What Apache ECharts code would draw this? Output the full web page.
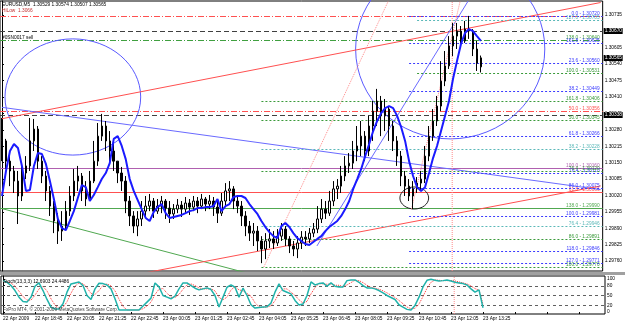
<!DOCTYPE html>
<html>
<head>
<meta charset="utf-8">
<title>EURUSD,M5</title>
<script src="https://cdn.jsdelivr.net/npm/echarts/dist/echarts.min.js"></script>
<style>
  html, body { margin: 0; padding: 0; background: #fff; }
  #main { width: 625px; height: 323px; }
</style>
</head>
<body>
<div id="main"></div>
<script>
// time labels, one every 8 bars
var timeLabels = ['22 Apr 2009', '22 Apr 18:45', '22 Apr 20:05', '22 Apr 21:25', '22 Apr 22:45',
  '23 Apr 00:05', '23 Apr 01:25', '23 Apr 02:45', '23 Apr 04:05', '23 Apr 05:25', '23 Apr 06:45',
  '23 Apr 08:05', '23 Apr 09:25', '23 Apr 10:45', '23 Apr 12:05', '23 Apr 13:25'];

var open = [1.30196, 1.30236, 1.30156, 1.30117, 1.30077, 1.30018, 1.30109, 1.30137, 1.30236, 1.30283,
  1.30156, 1.30097, 1.30038, 1.29978, 1.29919, 1.29879, 1.29899, 1.29958, 1.30018, 1.30077,
  1.30097, 1.30038, 1.30006, 1.30077, 1.30156, 1.30255, 1.30295, 1.30236, 1.30196, 1.30156,
  1.30109, 1.30077, 1.29998, 1.29939, 1.29899, 1.29927, 1.29958, 1.29978, 1.29998, 1.29958,
  1.29978, 1.29998, 1.29970, 1.29947, 1.29966, 1.29982, 1.29966, 1.29990, 1.29974, 1.29998,
  1.29978, 1.30006, 1.29986, 1.29998, 1.29974, 1.29950, 1.29998, 1.30038, 1.30046, 1.29998,
  1.29978, 1.29939, 1.29899, 1.29871, 1.29879, 1.29840, 1.29808, 1.29840, 1.29848, 1.29832,
  1.29859, 1.29887, 1.29848, 1.29820, 1.29808, 1.29832, 1.29855, 1.29848, 1.29871, 1.29887,
  1.29927, 1.29966, 1.29950, 1.29998, 1.30046, 1.30057, 1.30097, 1.30137, 1.30148, 1.30196,
  1.30216, 1.30255, 1.30196, 1.30295, 1.30354, 1.30394, 1.30335, 1.30362, 1.30295, 1.30236,
  1.30176, 1.30097, 1.30057, 1.30018, 1.30046, 1.30069, 1.30085, 1.30176, 1.30255, 1.30315,
  1.30374, 1.30473, 1.30533, 1.30612, 1.30651, 1.30671, 1.30632, 1.30679, 1.30671, 1.30600,
  1.30529];
var close = [1.30236, 1.30156, 1.30117, 1.30077, 1.30018, 1.30109, 1.30137, 1.30236, 1.30283, 1.30156,
  1.30097, 1.30038, 1.29978, 1.29919, 1.29879, 1.29899, 1.29958, 1.30018, 1.30077, 1.30097,
  1.30038, 1.30006, 1.30077, 1.30156, 1.30255, 1.30295, 1.30236, 1.30196, 1.30156, 1.30109,
  1.30077, 1.29998, 1.29939, 1.29899, 1.29927, 1.29958, 1.29978, 1.29998, 1.29958, 1.29978,
  1.29998, 1.29970, 1.29947, 1.29966, 1.29982, 1.29966, 1.29990, 1.29974, 1.29998, 1.29978,
  1.30006, 1.29986, 1.29998, 1.29974, 1.29950, 1.29998, 1.30038, 1.30046, 1.29998, 1.29978,
  1.29939, 1.29899, 1.29871, 1.29879, 1.29840, 1.29808, 1.29840, 1.29848, 1.29832, 1.29859,
  1.29887, 1.29848, 1.29820, 1.29808, 1.29832, 1.29855, 1.29848, 1.29871, 1.29887, 1.29927,
  1.29966, 1.29950, 1.29998, 1.30046, 1.30057, 1.30097, 1.30137, 1.30148, 1.30196, 1.30216,
  1.30255, 1.30196, 1.30295, 1.30354, 1.30394, 1.30335, 1.30362, 1.30295, 1.30236, 1.30176,
  1.30097, 1.30057, 1.30018, 1.30046, 1.30069, 1.30085, 1.30176, 1.30255, 1.30315, 1.30374,
  1.30473, 1.30533, 1.30612, 1.30651, 1.30671, 1.30632, 1.30679, 1.30671, 1.30600, 1.30544,
  1.30565];
var low = [1.30156, 1.30125, 1.30057, 1.30030, 1.29907, 1.29998, 1.30085, 1.30117, 1.30196, 1.30125,
  1.30069, 1.29998, 1.29939, 1.29871, 1.29828, 1.29840, 1.29887, 1.29939, 1.29998, 1.30038,
  1.29998, 1.29978, 1.29998, 1.30069, 1.30137, 1.30236, 1.30196, 1.30156, 1.30117, 1.30069,
  1.30038, 1.29950, 1.29899, 1.29871, 1.29859, 1.29899, 1.29939, 1.29958, 1.29931, 1.29947,
  1.29950, 1.29927, 1.29911, 1.29927, 1.29950, 1.29935, 1.29950, 1.29943, 1.29958, 1.29950,
  1.29966, 1.29958, 1.29966, 1.29939, 1.29911, 1.29939, 1.29978, 1.29998, 1.29966, 1.29950,
  1.29899, 1.29859, 1.29840, 1.29820, 1.29800, 1.29752, 1.29768, 1.29812, 1.29808, 1.29820,
  1.29840, 1.29820, 1.29792, 1.29780, 1.29772, 1.29808, 1.29820, 1.29832, 1.29855, 1.29871,
  1.29911, 1.29927, 1.29939, 1.29978, 1.30006, 1.30030, 1.30077, 1.30109, 1.30125, 1.30156,
  1.30176, 1.30156, 1.30176, 1.30236, 1.30295, 1.30255, 1.30275, 1.30236, 1.30196, 1.30137,
  1.30057, 1.30018, 1.29998, 1.29966, 1.30030, 1.30038, 1.30069, 1.30156, 1.30236, 1.30295,
  1.30354, 1.30453, 1.30521, 1.30572, 1.30600, 1.30612, 1.30624, 1.30640, 1.30572, 1.30513,
  1.30507];
var high = [1.30327, 1.30244, 1.30188, 1.30137, 1.30117, 1.30137, 1.30176, 1.30327, 1.30323, 1.30295,
  1.30176, 1.30117, 1.30057, 1.29998, 1.29950, 1.29958, 1.29998, 1.30057, 1.30125, 1.30137,
  1.30109, 1.30077, 1.30117, 1.30236, 1.30307, 1.30343, 1.30315, 1.30275, 1.30236, 1.30156,
  1.30133, 1.30097, 1.30018, 1.29958, 1.29958, 1.29998, 1.30018, 1.30026, 1.30010, 1.30006,
  1.30018, 1.30006, 1.29998, 1.29986, 1.30006, 1.29998, 1.30014, 1.30006, 1.30018, 1.30014,
  1.30026, 1.30014, 1.30022, 1.30014, 1.29998, 1.30030, 1.30069, 1.30077, 1.30057, 1.30018,
  1.29998, 1.29958, 1.29919, 1.29911, 1.29899, 1.29859, 1.29871, 1.29887, 1.29879, 1.29887,
  1.29911, 1.29899, 1.29859, 1.29840, 1.29859, 1.29879, 1.29879, 1.29891, 1.29911, 1.29978,
  1.30006, 1.29998, 1.30038, 1.30077, 1.30085, 1.30137, 1.30176, 1.30188, 1.30236, 1.30295,
  1.30315, 1.30275, 1.30335, 1.30394, 1.30442, 1.30414, 1.30402, 1.30374, 1.30315, 1.30255,
  1.30196, 1.30117, 1.30085, 1.30077, 1.30093, 1.30117, 1.30216, 1.30295, 1.30362, 1.30414,
  1.30552, 1.30592, 1.30651, 1.30703, 1.30703, 1.30691, 1.30711, 1.30731, 1.30679, 1.30632,
  1.30574];

// thick blue indicator line
var blueLine = [1.30018, 1.30117, 1.30196, 1.30224, 1.30208, 1.30137, 1.30038, 1.30042, 1.30137, 1.30188,
  1.30184, 1.30145, 1.30077, 1.30006, 1.29927, 1.29891, 1.29883, 1.29919, 1.29958, 1.30010,
  1.30061, 1.30053, 1.29998, 1.30022, 1.30053, 1.30085, 1.30109, 1.30148, 1.30244, 1.30255,
  1.30216, 1.30164, 1.30085, 1.30038, 1.30002, 1.29966, 1.29931, 1.29919, 1.29954, 1.29974,
  1.29986, 1.29950, 1.29931, 1.29935, 1.29939, 1.29943, 1.29950, 1.29958, 1.29962, 1.29970,
  1.29970, 1.29974, 1.29974, 1.29978, 1.30006, 1.29958, 1.29978, 1.29986, 1.30014, 1.30018,
  1.30018, 1.30010, 1.29986, 1.29966, 1.29947, 1.29919, 1.29895, 1.29875, 1.29859, 1.29851,
  1.29899, 1.29911, 1.29895, 1.29871, 1.29851, 1.29840, 1.29828, 1.29824, 1.29836, 1.29848,
  1.29859, 1.29879, 1.29895, 1.29907, 1.29919, 1.29939, 1.29966, 1.29998, 1.30046, 1.30085,
  1.30125, 1.30176, 1.30224, 1.30275, 1.30315, 1.30346, 1.30366, 1.30374, 1.30366, 1.30335,
  1.30291, 1.30236, 1.30156, 1.30097, 1.30053, 1.30038, 1.30053, 1.30109, 1.30168, 1.30216,
  1.30275, 1.30335, 1.30394, 1.30481, 1.30552, 1.30620, 1.30663, 1.30679, 1.30671, 1.30651,
  1.30632];

var stochMain = [95, 90, 80, 65, 45, 32, 30, 45, 78, 88,
  65, 38, 15, 9, 9, 25, 60, 85, 88, 91,
  80, 50, 38, 70, 87, 86, 82, 70, 40, 6,
  6, 6, 6, 6, 6, 18, 30, 42, 88, 76,
  50, 45, 40, 48, 70, 88, 88, 80, 72, 67,
  70, 73, 68, 50, 15, 45, 75, 82, 75, 45,
  72, 50, 22, 12, 14, 15, 16, 27, 60, 85,
  65, 60, 55, 35, 21, 24, 50, 91, 82, 86,
  88, 78, 88, 78, 76, 76, 95, 97, 97, 90,
  80, 73, 73, 70, 65, 58, 50, 44, 38, 22,
  15, 8, 6, 20, 45, 76, 96, 99, 96, 94,
  95, 97, 94, 90, 88, 86, 82, 70, 60, 67,
  13];
var stochSignal = [92, 92, 88, 78, 63, 47, 36, 36, 51, 70,
  77, 64, 40, 21, 11, 14, 31, 57, 78, 88,
  86, 74, 56, 53, 65, 81, 85, 79, 64, 39,
  17, 6, 6, 6, 6, 10, 18, 30, 53, 69,
  71, 57, 45, 44, 53, 69, 82, 85, 80, 73,
  70, 70, 70, 64, 44, 37, 45, 67, 77, 67,
  64, 56, 48, 28, 16, 14, 15, 19, 34, 57,
  70, 70, 60, 50, 37, 27, 32, 55, 74, 86,
  85, 84, 85, 81, 81, 77, 82, 89, 96, 95,
  89, 81, 75, 72, 69, 64, 58, 51, 44, 35,
  25, 15, 10, 11, 24, 47, 72, 90, 97, 96,
  95, 95, 95, 94, 91, 88, 85, 79, 71, 66,
  24];

var priceTicks = [1.30735, 1.30670, 1.30605, 1.30540, 1.30475, 1.30410, 1.30345, 1.30280,
  1.30215, 1.30150, 1.30085, 1.30020, 1.29955, 1.29890, 1.29825, 1.29760];
var stochTicks = [0, 20, 50, 80, 100];
var stochLevels = [20, 50, 80];

// horizontal objects across the whole chart
var hLinePrices = [1.30731, 1.30670, 1.30636, 1.30354, 1.30338, 1.30129, 1.30034, 1.29970];
var hLineTexts = ['', '', '138.0 - 1.30640', '50.0 - 1.30356', '', '100.0 - 1.30160', '61.8 - 1.30066', '138.0 - 1.29990'];
var boxedPrices = [1.30670, 1.30338, 1.30565];

// fibonacci levels: start bar, price, text
var blueFibStart = [102, 102, 102, 102, 102, 102, 102, 102, 102, 102];
var blueFibPrice = [1.30731, 1.30624, 1.30544, 1.30434, 1.30255, 1.30109, 1.30050, 1.29939, 1.29800, 1.29752];
var blueFibText = ['0.0 - 1.30720', '161.8 - 1.30625', '23.6 - 1.30560', '38.2 - 1.30449', '61.8 - 1.30266',
  '76.4 - 1.30110', '86.0 - 1.30075', '100.0 - 1.29981', '118.0 - 1.29846', '127.0 - 1.29771'];
var greenFibStart = [104, 65, 65, 65, 65, 65];
var greenFibPrice = [1.30505, 1.30394, 1.30319, 1.30117, 1.29848, 1.29737];
var greenFibText = ['100.0 - 1.30531', '161.8 - 1.30406', '50.0 - 1.30345', '76.4 - 1.30120', '86.0 - 1.29891', '100.0 - 1.29770'];
var tealFibStart = [104, 65, 65];
var tealFibPrice = [1.30715, 1.30204, 1.29899];
var tealFibText = ['127.0 - 1.30705', '38.2 - 1.30228', '76.4 - 1.29946'];

// trend lines [bar, price]
var redUpper = [[0, 1.30324], [150, 1.30784]];
var blueDown = [[0, 1.30369], [150, 1.30043]];
var greenDown = [[0, 1.29968], [65, 1.29698]];
var redRise = [[30, 1.29696], [150, 1.30058]];
var blueThin = [[78.9, 1.29820], [116.8, 1.30790]];
var pinkDiagA = [[65.6, 1.29737], [96.8, 1.30790]];
var pinkDiagB = [[102.6, 1.29966], [114.8, 1.30790]];
var nowBar = 112.8;

// ellipses [center bar, center price, half width in bars, half height in price]
var blueEllipses = [[17.75, 1.30410, 17, 0.0023], [112.3, 1.30600, 23.7, 0.00356]];
var blackEllipses = [[103.3, 1.30010, 3.6, 0.000436]];

var FONT = 'Liberation Sans';
var tiny = 4.8;
var tinyFont = tiny + 'px "' + FONT + '"';
var N = 151;

var categories = [];
for (var i = 0; i < N; i++) {
  categories.push(i % 8 === 0 && timeLabels[i / 8] ? timeLabels[i / 8] : '');
}
var candles = open.map(function (o, k) { return [o, close[k], low[k], high[k]]; });

var chart = echarts.init(document.getElementById('main'));

function seg(data, color, type, width) {
  return {
    type: 'line', xAxisIndex: 2, yAxisIndex: 0, data: data, symbol: 'none', silent: true,
    lineStyle: { color: color, width: width || 1, type: type || 'solid' }, z: 3
  };
}

function fibSeries(start, prices, texts, color) {
  return {
    type: 'custom', xAxisIndex: 2, yAxisIndex: 0, silent: true, z: 4,
    data: prices.map(function (p, k) { return [start[k], p]; }),
    renderItem: function (params, api) {
      var pt = api.coord([api.value(0), api.value(1)]);
      var right = params.coordSys.x + params.coordSys.width;
      var y = Math.round(pt[1]) + 0.5;
      return {
        type: 'group',
        children: [
          { type: 'line', shape: { x1: pt[0], y1: y, x2: right, y2: y },
            style: { stroke: color, lineWidth: 1, lineDash: [2, 2] } },
          { type: 'text', style: { text: texts[params.dataIndex], x: right - 3, y: y - 0.5,
            align: 'right', verticalAlign: 'bottom', fill: color, font: tinyFont } }
        ]
      };
    }
  };
}

function ellipseSeries(data, color) {
  return {
    type: 'custom', xAxisIndex: 2, yAxisIndex: 0, silent: true, z: 3,
    data: data,
    renderItem: function (params, api) {
      var c = api.coord([api.value(0), api.value(1)]);
      var s = api.size([api.value(2), api.value(3)]);
      return {
        type: 'ellipse',
        shape: { cx: c[0], cy: c[1], rx: s[0], ry: s[1] },
        style: { fill: null, stroke: color, lineWidth: 1 }
      };
    }
  };
}

var hStyles = [
  { color: '#ff5050', dash: [6, 2, 1, 2] },
  { color: '#404040', dash: [5, 3] },
  { color: '#40a040', dash: [6, 2, 1, 2] },
  { color: '#ff5050', dash: [6, 2, 1, 2] },
  { color: '#404040', dash: [5, 3] },
  { color: '#b060b0', dash: null },
  { color: '#ff5050', dash: null },
  { color: '#50a850', dash: null }
];

// full-width horizontal lines
var hLineSeries = {
  type: 'custom', xAxisIndex: 2, yAxisIndex: 0, silent: true, z: 3,
  data: hLinePrices.map(function (p) { return [0, p]; }),
  renderItem: function (params, api) {
    var cs = params.coordSys;
    var y = Math.round(api.coord([0, api.value(1)])[1]) + 0.5;
    var st = hStyles[params.dataIndex];
    var kids = [{ type: 'line', shape: { x1: cs.x, y1: y, x2: cs.x + cs.width, y2: y },
      style: { stroke: st.color, lineWidth: 1, lineDash: st.dash } }];
    var txt = hLineTexts[params.dataIndex];
    if (txt) {
      kids.push({ type: 'text', style: { text: txt, x: cs.x + cs.width - 3, y: y - 0.5,
        align: 'right', verticalAlign: 'bottom', fill: st.color, font: tinyFont } });
    }
    return { type: 'group', children: kids };
  }
};

// black price boxes on the price scale
var boxSeries = {
  type: 'custom', xAxisIndex: 2, yAxisIndex: 0, silent: true, z: 20, clip: false,
  data: boxedPrices.map(function (p) { return [0, p]; }),
  renderItem: function (params, api) {
    var cs = params.coordSys;
    var y = Math.round(api.coord([0, api.value(1)])[1]);
    var x = cs.x + cs.width + 1;
    return {
      type: 'group',
      children: [
        { type: 'rect', shape: { x: x, y: y - 3, width: 19, height: 6 }, style: { fill: '#000' } },
        { type: 'text', style: { text: api.value(1).toFixed(5), x: x + 1, y: y, align: 'left',
          verticalAlign: 'middle', fill: '#fff', font: tinyFont } }
      ]
    };
  }
};

// dashed stochastic levels
var levelSeries = {
  type: 'custom', xAxisIndex: 3, yAxisIndex: 1, silent: true, z: 3,
  data: stochLevels.map(function (v) { return [0, v]; }),
  renderItem: function (params, api) {
    var cs = params.coordSys;
    var y = Math.round(api.coord([0, api.value(1)])[1]) + 0.5;
    return { type: 'line', shape: { x1: cs.x, y1: y, x2: cs.x + cs.width, y2: y },
      style: { stroke: '#606060', lineWidth: 1, lineDash: [3, 3] } };
  }
};

var option = {
  animation: false,
  backgroundColor: '#fff',
  textStyle: { fontFamily: FONT },
  grid: [
    { left: 0, top: 1, width: 605, height: 270, show: true, borderColor: '#000', borderWidth: 1 },
    { left: 0, top: 276, width: 605, height: 38, show: true, borderColor: '#000', borderWidth: 1 }
  ],
  xAxis: [
    { type: 'category', gridIndex: 0, data: categories, boundaryGap: true, show: false },
    {
      type: 'category', gridIndex: 1, data: categories, boundaryGap: true, position: 'bottom',
      axisLine: { show: false },
      axisTick: { show: true, interval: 7, length: 2, alignWithLabel: true, lineStyle: { color: '#000' } },
      axisLabel: { interval: 7, align: 'left', fontSize: tiny, margin: 2, color: '#000', fontFamily: FONT },
      splitLine: { show: false }
    },
    { type: 'value', gridIndex: 0, min: -0.5, max: 150.5, show: false, position: 'top' },
    { type: 'value', gridIndex: 1, min: -0.5, max: 150.5, show: false, position: 'top' }
  ],
  yAxis: [
    {
      type: 'value', gridIndex: 0, position: 'right', min: 1.29721, max: 1.30790,
      axisLine: { show: true, lineStyle: { color: '#000' } },
      axisTick: { show: true, length: 2, customValues: priceTicks, lineStyle: { color: '#000' } },
      axisLabel: {
        customValues: priceTicks, fontSize: tiny, margin: 2, color: '#000', fontFamily: FONT,
        formatter: function (v) { return v.toFixed(5); }
      },
      splitLine: { show: false }
    },
    {
      type: 'value', gridIndex: 1, position: 'right', min: -6, max: 109,
      axisLine: { show: true, lineStyle: { color: '#000' } },
      axisTick: { show: true, length: 2, customValues: stochTicks, lineStyle: { color: '#000' } },
      axisLabel: { customValues: stochTicks, fontSize: tiny, margin: 2, color: '#000', fontFamily: FONT },
      splitLine: { show: false }
    }
  ],
  graphic: [
    { type: 'rect', left: 0, top: 272, shape: { width: 625, height: 3 }, style: { fill: '#a0a0a0' }, z: 10 },
    { type: 'text', left: 2, top: 2, z: 10,
      style: { text: 'EURUSD,M5  1.30529 1.30574 1.30507 1.30565', fill: '#000', font: tinyFont } },
    { type: 'text', left: 2, top: 8, z: 10,
      style: { text: 'HiLow  1.3066', fill: '#c03030', font: tinyFont } },
    { type: 'text', left: 2, top: 35, z: 10,
      style: { text: '#0SN0017 sell', fill: '#000', font: tinyFont } },
    { type: 'text', left: 3, top: 279, z: 10,
      style: { text: 'Stoch(13,3,3) 12.6903 24.4486', fill: '#000', font: tinyFont } },
    { type: 'text', left: 3, top: 307, z: 10,
      style: { text: 'FxPro MT4, \u00a9 2001-2009 MetaQuotes Software Corp.', fill: '#404040', font: tinyFont } }
  ],
  series: [
    {
      type: 'candlestick', xAxisIndex: 0, yAxisIndex: 0, data: candles, barWidth: 2, z: 5,
      itemStyle: { color: '#ffffff', color0: '#000000', borderColor: '#000000', borderColor0: '#000000', borderWidth: 1 }
    },
    {
      type: 'line', xAxisIndex: 0, yAxisIndex: 0, data: blueLine, symbol: 'none', silent: true, z: 6,
      lineStyle: { color: '#1a1aff', width: 2 }
    },
    hLineSeries,
    boxSeries,
    seg(redUpper, '#ff5050'),
    seg(blueDown, '#6a6aff'),
    seg(greenDown, '#50a850'),
    seg(redRise, '#ff5050'),
    seg(blueThin, '#6a6aff'),
    seg(pinkDiagA, '#ff8a8a', 'dotted'),
    seg(pinkDiagB, '#ff8a8a', 'dotted'),
    seg([[nowBar, 1.29721], [nowBar, 1.30790]], '#ff8a8a', 'dotted'),
    ellipseSeries(blueEllipses, '#5a5aff'),
    ellipseSeries(blackEllipses, '#202020'),
    fibSeries(blueFibStart, blueFibPrice, blueFibText, '#3b3bff'),
    fibSeries(greenFibStart, greenFibPrice, greenFibText, '#3a9a3a'),
    fibSeries(tealFibStart, tealFibPrice, tealFibText, '#5ab8b8'),
    levelSeries,
    {
      type: 'line', xAxisIndex: 1, yAxisIndex: 1, data: stochSignal, symbol: 'none', silent: true, z: 4,
      lineStyle: { color: '#ff3030', width: 1, type: 'dotted' }
    },
    {
      type: 'line', xAxisIndex: 1, yAxisIndex: 1, data: stochMain, symbol: 'none', silent: true, z: 5,
      lineStyle: { color: '#20b2aa', width: 1.5 }
    },
    {
      type: 'line', xAxisIndex: 3, yAxisIndex: 1, data: [[nowBar, -6], [nowBar, 109]], symbol: 'none', silent: true,
      lineStyle: { color: '#ff8a8a', width: 1, type: 'dotted' }
    }
  ]
};

chart.setOption(option);
</script>
</body>
</html>
